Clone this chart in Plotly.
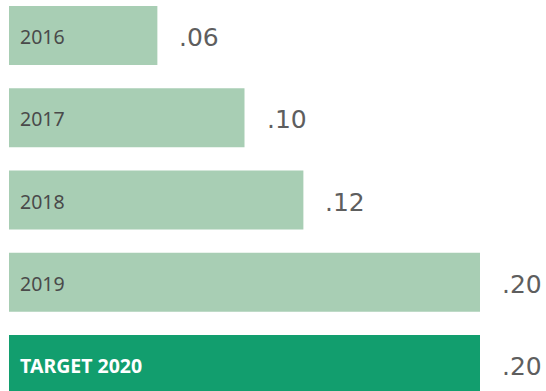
import plotly.graph_objects as go

categories = ["2016", "2017", "2018", "2019", "TARGET 2020"]
values = [0.063, 0.10, 0.125, 0.20, 0.20]
value_labels = [".06", ".10", ".12", ".20", ".20"]
colors = ["#A8CEB4", "#A8CEB4", "#A8CEB4", "#A8CEB4", "#129E6E"]

W, H = 546, 391
x0_px, x20_px = 9, 480
ppu = (x20_px - x0_px) / 0.20
xr = [-x0_px / ppu, (W - x0_px) / ppu]

c0, step = 35.5, 82.25
yr = [(H - c0) / step, -c0 / step]

fig = go.Figure()
fig.add_trace(go.Bar(
    y=list(range(len(categories))), x=values, orientation="h",
    marker=dict(color=colors, line=dict(width=0)),
    width=59 / step, hoverinfo="skip",
))

for i, (cat, v, lab) in enumerate(zip(categories, values, value_labels)):
    is_target = i == len(categories) - 1
    fig.add_annotation(
        x=0, y=i, xref="x", yref="y", text=cat,
        xanchor="left", yanchor="middle", xshift=9, yshift=-1, showarrow=False,
        font=dict(family="Noto Sans", size=19.5,
                  color="#FFFFFF" if is_target else "#4A4A4A",
                  weight=700 if is_target else 400),
    )
    fig.add_annotation(
        x=v, y=i, xref="x", yref="y", text=lab,
        xanchor="left", yanchor="middle", xshift=20, yshift=-2, showarrow=False,
        font=dict(family="DejaVu Sans", size=25, color="#5E5E5E", weight=400),
    )

fig.update_layout(
    width=W, height=H, margin=dict(l=0, r=0, t=0, b=0),
    paper_bgcolor="white", plot_bgcolor="white", showlegend=False,
    xaxis=dict(range=xr, visible=False, fixedrange=True),
    yaxis=dict(range=yr, visible=False, fixedrange=True),
)
fig.write_html("out.html", config={"displayModeBar": False})
